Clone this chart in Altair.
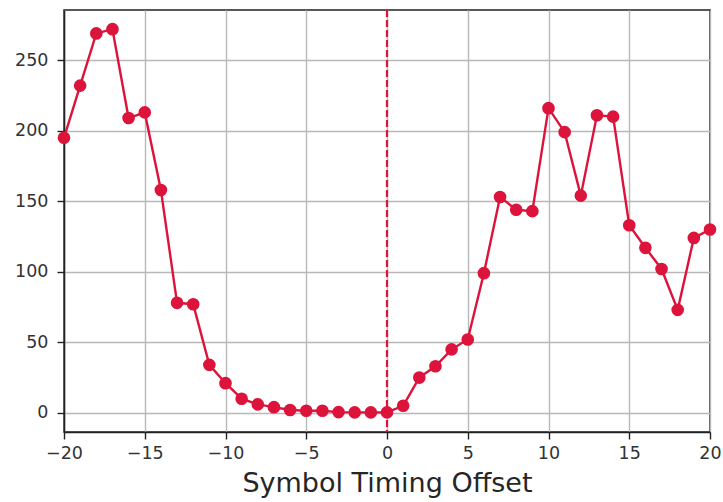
import altair as alt
import pandas as pd

# Symbol timing offsets and the metric measured at each offset
offsets = list(range(-20, 21))
values = [195, 232, 269, 272, 209, 213, 158, 78, 77, 34, 21,
          10, 6, 4, 2, 1.5, 1.5, 0.5, 0.3, 0.3, 0.3,
          5, 25, 33, 45, 52, 99, 153, 144, 143, 216,
          199, 154, 211, 210, 133, 117, 102, 73, 124, 130]
marker_offset = [0]

x_ticks = [-20, -15, -10, -5, 0, 5, 10, 15, 20]
y_ticks = [0, 50, 100, 150, 200, 250]

df = pd.DataFrame({"offset": offsets, "value": values})
vline = pd.DataFrame({"offset": marker_offset})

color = "#DC143C"
minus_expr = "replace(datum.label, '-', '\u2212')"

x_enc = alt.X(
    "offset:Q",
    scale=alt.Scale(domain=[-20, 20], nice=False, zero=False),
    axis=alt.Axis(
        values=x_ticks,
        labelExpr=minus_expr,
        title="Symbol Timing Offset",
    ),
)
y_enc = alt.Y(
    "value:Q",
    scale=alt.Scale(domain=[-13.6, 285.6], nice=False, zero=False),
    axis=alt.Axis(values=y_ticks, title=None),
)

line = alt.Chart(df).mark_line(color=color, strokeWidth=2.4).encode(x=x_enc, y=y_enc)
points = alt.Chart(df).mark_circle(color=color, size=160, opacity=1).encode(x="offset:Q", y="value:Q")
rule = alt.Chart(vline).mark_rule(color=color, strokeWidth=2.2, strokeDash=[7, 3]).encode(x="offset:Q")

chart = (
    alt.layer(rule, line, points)
    .properties(
        width=646,
        height=422,
        autosize=alt.AutoSizeParams(type="none"),
        padding={"left": 64, "top": 10, "right": 13, "bottom": 70},
        background="white",
    )
    .configure_view(stroke="#222222", strokeWidth=1.5)
    .configure_axis(
        labelFont="DejaVu Sans",
        labelFontSize=17.5,
        labelColor="#333333",
        titleFont="DejaVu Sans",
        titleFontSize=27,
        titleFontWeight="normal",
        titleColor="#262626",
        grid=True,
        gridColor="#b8b8b8",
        gridWidth=1.4,
        domainColor="#222222",
        domainWidth=1.5,
        tickColor="#222222",
        tickSize=7,
        tickWidth=1.4,
        labelPadding=5,
    )
    .configure_axisX(titlePadding=9, labelFlush=False)
    .configure_axisY(labelPadding=9)
)

chart.save("out.html", embed_options={"renderer": "svg", "actions": False})
